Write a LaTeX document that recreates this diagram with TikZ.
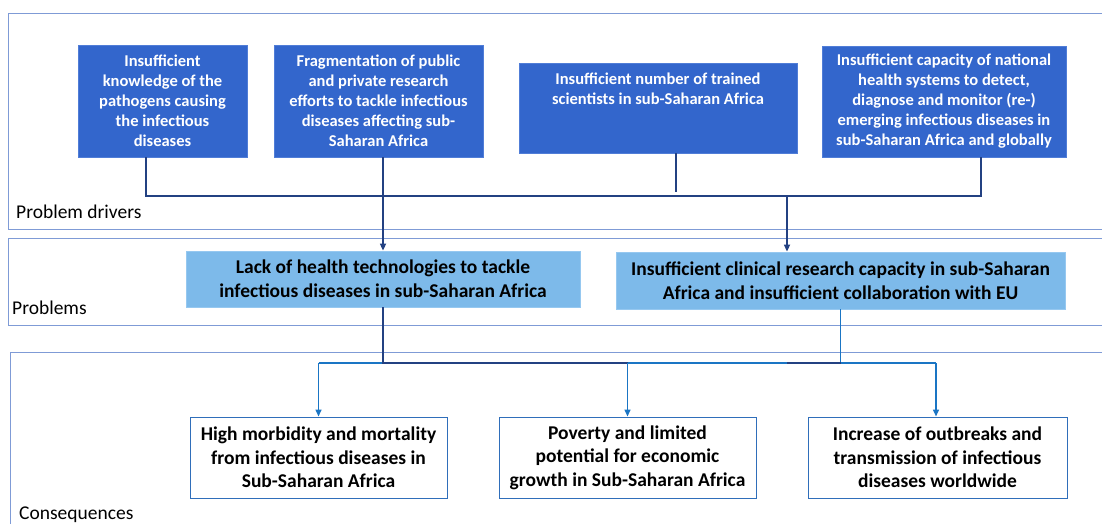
\documentclass[tikz,border=0pt]{standalone}
\usepackage{fontspec}
\setmainfont{Carlito}
\usetikzlibrary{arrows.meta,calc}
\definecolor{panelc}{RGB}{127,155,214}
\definecolor{topfill}{RGB}{51,102,204}
\definecolor{topdraw}{RGB}{80,125,215}
\definecolor{probfill}{RGB}{125,186,234}
\definecolor{probdraw}{RGB}{150,200,240}
\definecolor{consdraw}{RGB}{47,110,186}
\definecolor{darkc}{RGB}{35,65,130}
\definecolor{lowc}{RGB}{26,117,196}
\tikzset{
  panel/.style={draw=panelc, line width=1pt},
  topbox/.style={fill=topfill, draw=topdraw, line width=0.8pt, text=white, align=center, inner sep=0pt,
    font=\fontsize{16.5}{20}\selectfont\bfseries},
  probbox/.style={fill=probfill, draw=probdraw, line width=0.8pt, text=black, align=center, inner sep=0pt,
    font=\fontsize{19.5}{24}\selectfont\bfseries},
  consbox/.style={fill=white, draw=consdraw, line width=1pt, text=black, align=center, inner sep=0pt,
    font=\fontsize{19.5}{23.5}\selectfont\bfseries},
  paneltext/.style={anchor=west, inner sep=0pt, font=\fontsize{19.5}{22}\selectfont},
  topc/.style={draw=darkc, line width=1.6pt},
  lowl/.style={draw=lowc, line width=1.5pt},
  darkl/.style={draw=darkc, line width=1.8pt},
  arr/.style={-{Triangle[width=6pt,length=7pt]}},
}
\begin{document}
\begin{tikzpicture}[x=1pt,y=-1pt]
\useasboundingbox (0,0) rectangle (1102,523);
% panels
\draw[panel] (8,13) rectangle (1120,229);
\draw[panel] (8,238) rectangle (1120,325);
\draw[panel] (10.5,352) rectangle (1120,545);
\node[paneltext] (lab1) at (16,212) {Problem drivers};
\node[paneltext] (lab2) at (12,308) {Problems};
\node[paneltext] (lab3) at (19,515) {Consequences};
% problem drivers
\node[topbox, minimum width=169pt, minimum height=112pt] (b1) at (162.5,101)
  {Insufficient\\knowledge of the\\pathogens causing\\the infectious\\diseases};
\node[topbox, minimum width=209pt, minimum height=112pt] (b2) at (378.5,101)
  {Fragmentation of public\\and private research\\efforts to tackle infectious\\diseases affecting sub-\\Saharan Africa};
\node[topbox, minimum width=278pt, minimum height=90pt] (b3) at (658,108) {};
\node[topbox, fill=none, draw=none] (b3t) at (658,89)
  {Insufficient number of trained\\scientists in sub-Saharan Africa};
\node[topbox, minimum width=244pt, minimum height=111pt] (b4) at (944,101.5)
  {Insufficient capacity of national\\health systems to detect,\\diagnose and monitor (re-)\\emerging infectious diseases in\\sub-Saharan Africa and globally};
% problems
\node[probbox, minimum width=394pt, minimum height=56pt] (p1) at (383,279)
  {Lack of health technologies to tackle\\infectious diseases in sub-Saharan Africa};
\node[probbox, minimum width=449pt, minimum height=57pt] (p2) at (840.5,280.5)
  {Insufficient clinical research capacity in sub-Saharan\\Africa and insufficient collaboration with EU};
% consequences
\node[consbox, minimum width=257pt, minimum height=81pt] (c1) at (318.5,457.5)
  {High morbidity and mortality\\from infectious diseases in\\Sub-Saharan Africa};
\node[consbox, minimum width=257pt, minimum height=81pt] (c2) at (627.5,457.5)
  {Poverty and limited\\potential for economic\\growth in Sub-Saharan Africa};
\node[consbox, minimum width=259pt, minimum height=81pt] (c3) at (937.5,457.5)
  {Increase of outbreaks and\\transmission of infectious\\diseases worldwide};
% connector anchor points
\coordinate (busT) at (0,196);
\coordinate (busB) at (0,363);
\coordinate (d1) at ([xshift=-16.5pt]b1.south);
\coordinate (d2) at ([xshift=4.5pt]b2.south);
\coordinate (d3) at ([xshift=18pt]b3.south);
\coordinate (d4) at ([xshift=37pt]b4.south);
\coordinate (q2) at ([xshift=-53.5pt]p2.north);
\coordinate (q2b) at ([xshift=-53.5pt]p2.south);
\coordinate (e3) at ([xshift=-1.5pt]c3.north);
% top connectors
\draw[topc] (d1) |- (busT -| d4) -- (d4);
\draw[topc] (d2) -- (d2 |- busT);
\draw[topc] (d3) -- ++(0,39);
\draw[topc, arr] (p1.north |- busT) -- (p1.north);
\draw[topc, arr] (q2 |- busT) -- (q2);
% lower connectors
\draw[lowl] (c1.north |- busB) -- (e3 |- busB);
\draw[darkl] (p1.south) |- (c2.north |- busB);
\draw[lowl] (p2.south) -- (p2.south |- busB);
\draw[darkl] (q2b |- busB) -- (p2.south |- busB);
\draw[lowl, arr] (c1.north |- busB) -- (c1.north);
\draw[lowl, arr] (c2.north |- busB) -- (c2.north);
\draw[lowl, arr] (e3 |- busB) -- (e3);
\end{tikzpicture}
\end{document}
